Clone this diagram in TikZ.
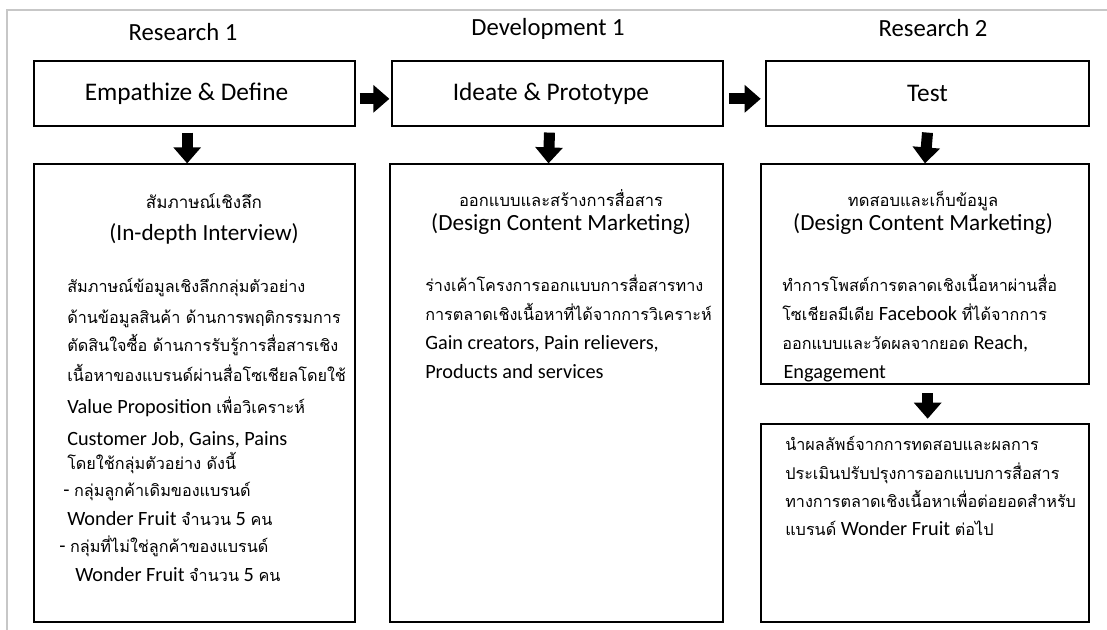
\documentclass[tikz,border=0pt]{standalone}
\usepackage{fontspec}
\setmainfont{Carlito}
\newfontfamily\thaifont[Script=Thai, Scale=0.8]{Loma}
\newcommand{\tha}[1]{{\thaifont #1}}
\usetikzlibrary{arrows.meta}

\begin{document}
\begin{tikzpicture}[x=0.75pt, y=-0.75pt,
   block/.style={draw, line width=0.9pt, inner sep=0pt},
   head/.style={font=\fontsize{18.5}{20}\selectfont},
   title/.style={align=center, anchor=base, font=\fontsize{17.4}{18}\selectfont},
   body/.style={align=left, anchor=base west, inner sep=0pt, font=\fontsize{15.2}{21.75}\selectfont},
   fat/.style={line width=8.25pt, -{Triangle[width=20pt, length=12pt]}},]
   \useasboundingbox (0,0) rectangle (1107,630);
   \draw[black!22, line width=1.5pt] (7,630) -- (7,10) -- (1107,10);

   % phases
   \node[head] (r1) at (183, 32) {Research 1};
   \node[head] (d1) at (548, 29) {Development 1};
   \node[head] (r2) at (933, 28) {Research 2};

   \node[block, minimum width=240.75pt, minimum height=48.75pt, font=\fontsize{19}{20}\selectfont] (emp) at (194.5, 93.5) {Empathize \& Define\hspace*{12pt}};
   \node[block, minimum width=248.25pt, minimum height=48.75pt, font=\fontsize{19}{20}\selectfont] (ide) at (557.5, 93.5) {Ideate \& Prototype\hspace*{10pt}};
   \node[block, minimum width=242.25pt, minimum height=48.75pt, font=\fontsize{19}{20}\selectfont] (tst) at (927.5, 93.5) {Test};

   \node[block, minimum width=240.75pt, minimum height=343.5pt] (intv) at (194.5, 393) {};
   \node[block, minimum width=249.75pt, minimum height=343.5pt] (dsgn) at (556.5, 393) {};
   \node[block, minimum width=246pt, minimum height=165pt] (post) at (925, 274) {};
   \node[block, minimum width=246pt, minimum height=148.5pt] (eval) at (925, 523) {};

   % arrows
   \draw[fat] ([xshift=3pt, yshift=-4pt]emp.east) -- ([xshift=-1.5pt, yshift=-4pt]ide.west);
   \draw[fat] ([xshift=4pt, yshift=-4pt]ide.east) -- ([xshift=-3.5pt, yshift=-4pt]tst.west);
   \draw[fat] ([xshift=-5.5pt, yshift=-4.5pt]emp.south) -- ([xshift=-5.5pt]intv.north);
   \draw[fat] ([xshift=-6pt, yshift=-4.5pt]ide.south) -- ([xshift=-6pt]dsgn.north);
   \draw[fat] ([yshift=-4.5pt]tst.south) -- (post.north);
   \draw[fat] ([xshift=2pt, yshift=-6.5pt]post.south) -- ([xshift=2pt, yshift=3.5pt]eval.north);

   % texts
   \node[title] (intvt) at (204, 241) {{\fontsize{16}{18}\selectfont\tha{สัมภาษณ์เชิงลึก}}\\[6pt](In-depth Interview)};
   \node[title] (dsgnt) at (561, 231) {{\fontsize{15.5}{18}\selectfont\tha{ออกแบบและสร้างการสื่อสาร}}\\(Design Content Marketing)};
   \node[title] (postt) at (923, 231) {{\fontsize{15.5}{18}\selectfont\tha{ทดสอบและเก็บข้อมูล}}\\(Design Content Marketing)};

   \node[body] (intvb) at (67, 582) {\tha{สัมภาษณ์ข้อมูลเชิงลึกกลุ่มตัวอย่าง}\\[1.5pt]
      \tha{ด้านข้อมูลสินค้า ด้านการพฤติกรรมการ}\\
      \tha{ตัดสินใจซื้อ ด้านการรับรู้การสื่อสารเชิง}\\[0.75pt]
      \tha{เนื้อหาของแบรนด์ผ่านสื่อโซเชียลโดยใช้}\\[2pt]
      Value Proposition \tha{เพื่อวิเคราะห์}\\[2.5pt]
      Customer Job, Gains, Pains\\[-4pt]
      \tha{โดยใช้กลุ่มตัวอย่าง ดังนี้}\\[-1.25pt]
      \hspace*{-3pt}- \tha{กลุ่มลูกค้าเดิมของแบรนด์}\\
      Wonder Fruit \tha{จำนวน} 5 \tha{คน}\\[-1.5pt]
      \hspace*{-6pt}- \tha{กลุ่มที่ไม่ใช่ลูกค้าของแบรนด์}\\
      \hspace*{6pt}Wonder Fruit \tha{จำนวน} 5 \tha{คน}};
   \node[body] (dsgnb) at (425, 379) {\tha{ร่างเค้าโครงการออกแบบการสื่อสารทาง}\\
      \tha{การตลาดเชิงเนื้อหาที่ได้จากการวิเคราะห์}\\
      Gain creators, Pain relievers,\\
      Products and services};
   \node[body] (postb) at (782, 379) {\tha{ทำการโพสต์การตลาดเชิงเนื้อหาผ่านสื่อ}\\
      \tha{โซเชียลมีเดีย} Facebook \tha{ที่ได้จากการ}\\
      \tha{ออกแบบและวัดผลจากยอด} Reach,\\
      \hspace*{1pt}Engagement};
   \node[body, font=\fontsize{15.2}{21.25}\selectfont] (evalb) at (785, 536) {\tha{นำผลลัพธ์จากการทดสอบและผลการ}\\
      \tha{ประเมินปรับปรุงการออกแบบการสื่อสาร}\\
      \tha{ทางการตลาดเชิงเนื้อหาเพื่อต่อยอดสำหรับ}\\
      \tha{แบรนด์} Wonder Fruit \tha{ต่อไป}};
\end{tikzpicture}
\end{document}
